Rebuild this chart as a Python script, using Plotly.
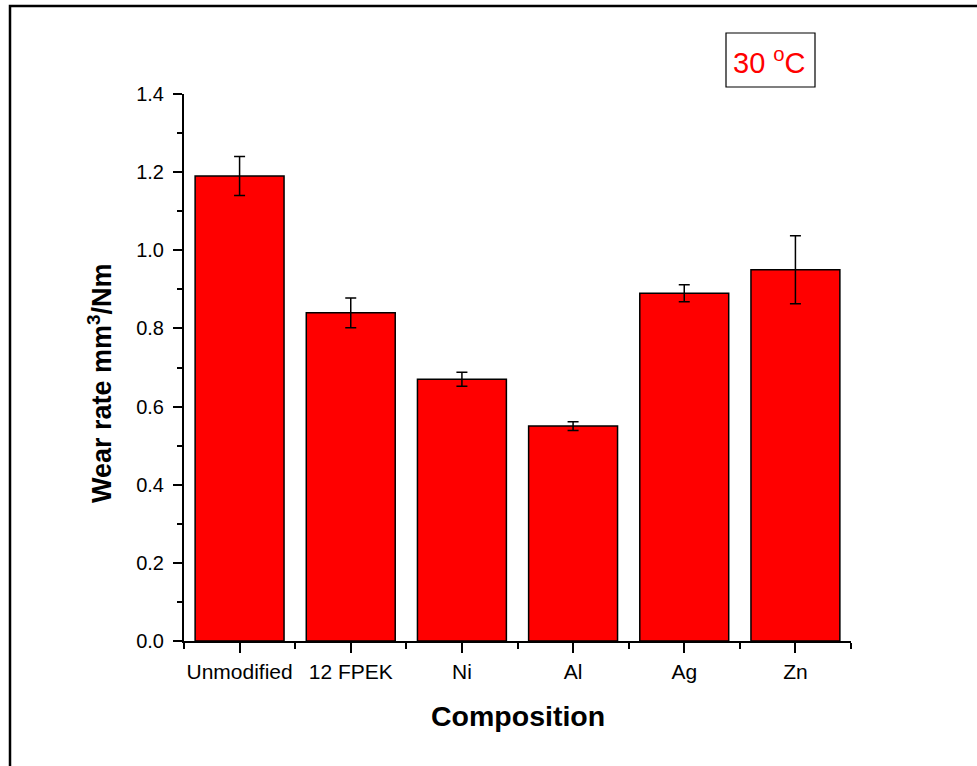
import plotly.graph_objects as go

categories = ["Unmodified", "12 FPEK", "Ni", "Al", "Ag", "Zn"]
wear_rate = [1.19, 0.84, 0.67, 0.55, 0.89, 0.95]
wear_err = [0.05, 0.038, 0.018, 0.011, 0.022, 0.087]
y_ticks = [0.0, 0.2, 0.4, 0.6, 0.8, 1.0, 1.2, 1.4]
y_tick_labels = ["0.0", "0.2", "0.4", "0.6", "0.8", "1.0", "1.2", "1.4"]

FONT = "Liberation Sans, Arial, sans-serif"
W, H = 977, 766
L, R, T, B = 184, 126, 94, 125
pw, ph = W - L - R, H - T - B

def px_x(p):
    return (p - L) / pw

def px_y(p):
    return (H - B - p) / ph

xs = list(range(len(categories)))

fig = go.Figure()
fig.add_trace(go.Bar(
    x=xs, y=wear_rate, width=0.8,
    marker=dict(color="#ff0000", line=dict(color="black", width=1.5)),
    error_y=dict(type="data", array=wear_err, visible=True,
                 color="black", thickness=1.5, width=5.5),
))

fig.update_layout(
    width=W, height=H,
    margin=dict(l=L, r=R, t=T, b=B, pad=0),
    paper_bgcolor="white", plot_bgcolor="white",
    showlegend=False,
    font=dict(family=FONT, color="black"),
    xaxis=dict(
        range=[-0.5, len(categories) - 0.5],
        tickmode="array", tickvals=xs, ticktext=categories,
        ticks="outside", ticklen=10, tickwidth=2, tickcolor="black",
        showline=True, linewidth=2, linecolor="black",
        showgrid=False, zeroline=False,
        tickfont=dict(size=21, family=FONT),
        ticklabelstandoff=1,
        minor=dict(tickmode="linear", tick0=-0.5, dtick=1, ticks="outside",
                   ticklen=6, tickwidth=2, tickcolor="black", showgrid=False),
    ),
    yaxis=dict(
        range=[0, 1.4],
        tickmode="array", tickvals=y_ticks, ticktext=y_tick_labels,
        ticks="outside", ticklen=9, tickwidth=2, tickcolor="black",
        showline=True, linewidth=2, linecolor="black",
        showgrid=False, zeroline=False,
        tickfont=dict(size=20, family=FONT),
        ticklabelstandoff=5,
        minor=dict(tickmode="linear", tick0=0, dtick=0.1, ticks="outside",
                   ticklen=5, tickwidth=2, tickcolor="black", showgrid=False),
    ),
)

# outer frame
fig.add_shape(type="rect", xref="paper", yref="paper",
              x0=px_x(10), x1=px_x(985), y0=px_y(775), y1=px_y(6),
              line=dict(color="black", width=2.5), fillcolor="rgba(0,0,0,0)")

# temperature box
fig.add_shape(type="rect", xref="paper", yref="paper",
              x0=px_x(726), x1=px_x(815), y0=px_y(87), y1=px_y(33),
              line=dict(color="black", width=1.2), fillcolor="white")
fig.add_annotation(xref="paper", yref="paper", x=px_x(769), y=px_y(61),
                   text="30 <sup>o</sup>C", showarrow=False,
                   font=dict(size=29, color="#ff0000", family=FONT),
                   xanchor="center", yanchor="middle")

# axis titles
fig.add_annotation(xref="paper", yref="paper", x=px_x(518), y=px_y(716),
                   text="<b>Composition</b>", showarrow=False,
                   font=dict(size=28.5, family=FONT, color="black"),
                   xanchor="center", yanchor="middle")
fig.add_annotation(xref="paper", yref="paper", x=px_x(100), y=px_y(383),
                   text="<b>Wear rate mm<sup>3</sup>/Nm</b>", showarrow=False,
                   textangle=-90,
                   font=dict(size=27, family=FONT, color="black"),
                   xanchor="center", yanchor="middle")

fig.write_html("out.html")
